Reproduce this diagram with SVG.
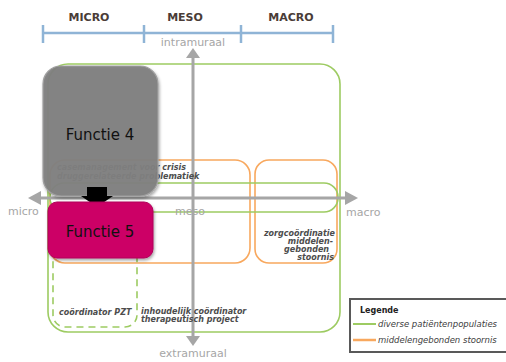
<svg xmlns="http://www.w3.org/2000/svg" width="506" height="362" viewBox="0 0 506 362">
<defs>
<style>
.hdr{font-family:"DejaVu Sans",sans-serif;font-weight:bold;font-size:11px;fill:#4a3c37;text-anchor:middle}
.ax{font-family:"DejaVu Sans",sans-serif;font-size:11px;fill:#a6a6a6}
.lbl{font-family:"DejaVu Sans",sans-serif;font-style:italic;font-weight:bold;font-size:8px;fill:#4d4d4d}
.leg{font-family:"DejaVu Sans",sans-serif;font-style:italic;font-size:8.5px;fill:#404040}
.fn{font-family:"DejaVu Sans",sans-serif;font-size:15px;fill:#111;text-anchor:middle}
.g{fill:none;stroke:#9dcb62;stroke-width:1.6}
.o{fill:none;stroke:#f8a85e;stroke-width:1.6}
.axl{stroke:#a6a6a6;stroke-width:3;fill:none}
</style>
<filter id="sh" x="-10%" y="-10%" width="130%" height="130%"><feDropShadow dx="1" dy="2" stdDeviation="1.5" flood-color="#000" flood-opacity="0.35"/></filter>
</defs>
<rect width="506" height="362" fill="#fff"/>
<g id="header">
<text class="hdr" x="89" y="21">MICRO</text>
<text class="hdr" x="185" y="21">MESO</text>
<text class="hdr" x="291" y="21">MACRO</text>
<g stroke="#8fb4d6" stroke-width="2.5">
<line x1="43" y1="33" x2="333" y2="33"/>
<line x1="43" y1="25" x2="43" y2="43"/>
<line x1="144" y1="25" x2="144" y2="43"/>
<line x1="241" y1="25" x2="241" y2="43"/>
<line x1="333" y1="25" x2="333" y2="43"/>
</g>
</g>
<g id="regions">
<rect id="green-big" class="g" x="48" y="64" width="292" height="268" rx="20"/>
<rect id="orange-1" class="o" x="50" y="160" width="200" height="103" rx="15"/>
<rect id="orange-2" class="o" x="255" y="160" width="82" height="103" rx="14"/>
<rect id="green-band" class="g" x="50" y="183" width="288" height="29" rx="14"/>
<rect id="green-dashed" class="g" x="53" y="214" width="84" height="113" rx="12" stroke-dasharray="7,5"/>
</g>
<g id="axes">
<line class="axl" x1="193" y1="56" x2="193" y2="336"/>
<polygon points="193,48 186,58 200,58" fill="#a6a6a6"/>
<polygon points="193,346 186,336 200,336" fill="#a6a6a6"/>
<line class="axl" x1="40" y1="198" x2="346" y2="198"/>
<polygon points="28,198 41,191 41,205" fill="#a6a6a6"/>
<polygon points="358,198 345,191 345,205" fill="#a6a6a6"/>
<text class="ax" x="193" y="46" text-anchor="middle">intramuraal</text>
<text class="ax" x="193" y="357" text-anchor="middle">extramuraal</text>
<text class="ax" x="8" y="215">micro</text>
<text class="ax" x="346" y="216">macro</text>
<text class="ax" x="175" y="215">meso</text>
</g>
<g id="labels">
<text class="lbl" x="57" y="170">casemanagement voor crisis</text>
<text class="lbl" x="57" y="179">druggerelateerde problematiek</text>
<g text-anchor="end">
<text class="lbl" x="335" y="236">zorgcoördinatie</text>
<text class="lbl" x="333" y="244">middelen-</text>
<text class="lbl" x="329" y="252">gebonden</text>
<text class="lbl" x="334" y="260">stoornis</text>
</g>
<text class="lbl" x="59" y="315">coördinator PZT</text>
<text class="lbl" x="141" y="314">inhoudelijk coördinator</text>
<text class="lbl" x="141" y="322">therapeutisch project</text>
</g>
<g id="functie4">
<rect x="43" y="66" width="115" height="130" rx="18" fill="#7f7f7f" fill-opacity="0.95" stroke="#a0a0a0" stroke-width="1.2" filter="url(#sh)"/>
<text class="fn" x="100" y="140">Functie 4</text>
</g>
<g id="arrow">
<polygon points="87,187 107,187 107,196 113,196 97,207 81,196 87,196" fill="#000"/>
</g>
<g id="functie5">
<rect x="48" y="202" width="105" height="56" rx="9" fill="#cc0066" stroke="#b0005a" stroke-width="1" filter="url(#sh)"/>
<text class="fn" x="100" y="237">Functie 5</text>
</g>
<g id="legend">
<rect x="350" y="299" width="160" height="53" fill="#fff" stroke="#595959" stroke-width="2"/>
<text x="360" y="313" style="font-family:'DejaVu Sans',sans-serif;font-weight:bold;font-size:8px;fill:#222">Legende</text>
<line x1="353" y1="324" x2="376" y2="324" stroke="#9dcb62" stroke-width="2"/>
<text class="leg" x="378" y="327">diverse patiëntenpopulaties</text>
<line x1="353" y1="340" x2="376" y2="340" stroke="#f8a85e" stroke-width="2.5"/>
<text class="leg" x="378" y="343">middelengebonden stoornis</text>
</g>
</svg>
